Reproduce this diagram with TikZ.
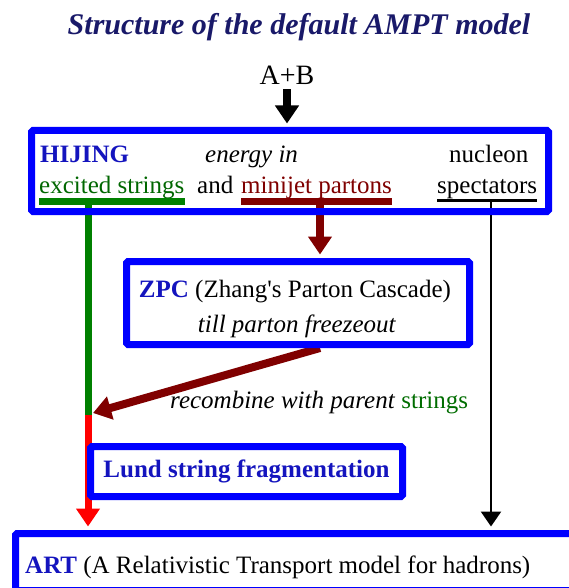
\documentclass[tikz,border=0pt]{standalone}
\usepackage{fontspec}
\setmainfont{Liberation Serif}
\usetikzlibrary{arrows.meta,backgrounds}
\definecolor{boxblue}{RGB}{0,0,255}
\definecolor{labelblue}{RGB}{20,20,190}
\definecolor{headblue}{RGB}{25,25,105}
\definecolor{strgreen}{RGB}{0,128,0}
\definecolor{partred}{RGB}{128,0,0}
\definecolor{fragred}{RGB}{255,0,0}

\begin{document}
\begin{tikzpicture}[
    x=1pt, y=-1pt,
    modbox/.style={draw=boxblue, line width=7pt, inner sep=0pt, rounded corners=1.5pt},
    txt/.style={inner sep=0pt},
    modname/.style={txt, text=labelblue, font=\bfseries},
    flow/.style={line width=8pt, -{Triangle[width=23pt,length=18pt]}},
    thinflow/.style={line width=2.5pt, -{Triangle[width=20pt,length=15pt]}}
  ]
  \fontsize{25}{30}\selectfont
  \useasboundingbox (0,0) rectangle (569,588);
  \clip (0,0) rectangle (569,588);

  \node[txt, anchor=base, text=headblue, font=\fontsize{30}{36}\selectfont\bfseries\itshape] (title) at (299,35) {Structure of the default AMPT model};
  \node[txt, anchor=base, font=\fontsize{28}{34}\selectfont] (ab) at (287,85) {A+B};

  \node[modbox, minimum width=517pt, minimum height=81pt] (hijing) at (290,171) {};
  \node[modname, anchor=base west] (hijinglbl) at (40,163) {HIJING};
  \node[txt, anchor=base west] (energy) at (205,163) {\textit{energy in}};
  \node[txt, anchor=base west] (nucleon) at (449,163) {nucleon};
  \node[txt, anchor=base west, text=strgreen!80!black] (excited) at (39,193) {excited strings};
  \node[txt, anchor=base west] (and) at (197,193) {and};
  \node[txt, anchor=base west, text=partred] (minijet) at (241,193) {minijet partons};
  \node[txt, anchor=base west] (spect) at (437,193) {spectators};
  \draw[strgreen, line width=7pt] ([yshift=-8pt]excited.base west) -- ([yshift=-8pt]excited.base east);
  \draw[partred, line width=7pt] ([yshift=-8pt]minijet.base west) -- ([yshift=-8pt]minijet.base east);
  \draw[black, line width=3pt] ([yshift=-7.5pt]spect.base west) -- ([yshift=-7.5pt]spect.base east);

  \node[modbox, minimum width=343pt, minimum height=83pt] (zpc) at (298,303) {};
  \node[txt, anchor=base] (zpcname) at (295,297) {\textcolor{labelblue}{\bfseries ZPC} (Zhang\textquotesingle s Parton Cascade)};
  \node[txt, anchor=base] (zpcstage) at (297,332) {\textit{till parton freezeout}};

  \node[txt, anchor=base west] (recomblbl) at (170,408) {\textit{recombine with parent} \textcolor{strgreen!85!black}{strings}};

  \node[modbox, modname, minimum width=312pt, minimum height=50pt] (lund) at (246.5,471.5) {Lund string fragmentation};

  \node[modbox, minimum width=560pt, minimum height=57pt] (art) at (295.5,562) {};
  \node[txt, anchor=base west] (artlbl) at (25,573) {\textcolor{labelblue}{\bfseries ART} (A Relativistic Transport model for hadrons)};

  \coordinate (strtop) at (88,201);
  \coordinate (strjoin) at (88,415);
  \coordinate (mjtop) at (320,201);
  \coordinate (sptop) at (491,200);
  \coordinate (recomb) at (93,413);

  \begin{scope}[on background layer]
    \fill[white] (0,0) rectangle (569,588);
    \draw[flow, black, shorten <=4pt, shorten >=3.5pt] (ab) -- (ab |- hijing.north);
    \draw[strgreen, line width=7pt] (strtop) -- (strjoin);
    \draw[flow, fragred, line width=7pt, shorten >=3.5pt] (strjoin) -- (strjoin |- art.north);
    \draw[flow, partred, shorten >=3.5pt] (mjtop) -- (mjtop |- zpc.north);
    \draw[flow, partred] (zpc.south -| mjtop) -- (recomb);
    \draw[thinflow, black, shorten >=3.5pt] (sptop) -- (sptop |- art.north);
  \end{scope}
\end{tikzpicture}
\end{document}
